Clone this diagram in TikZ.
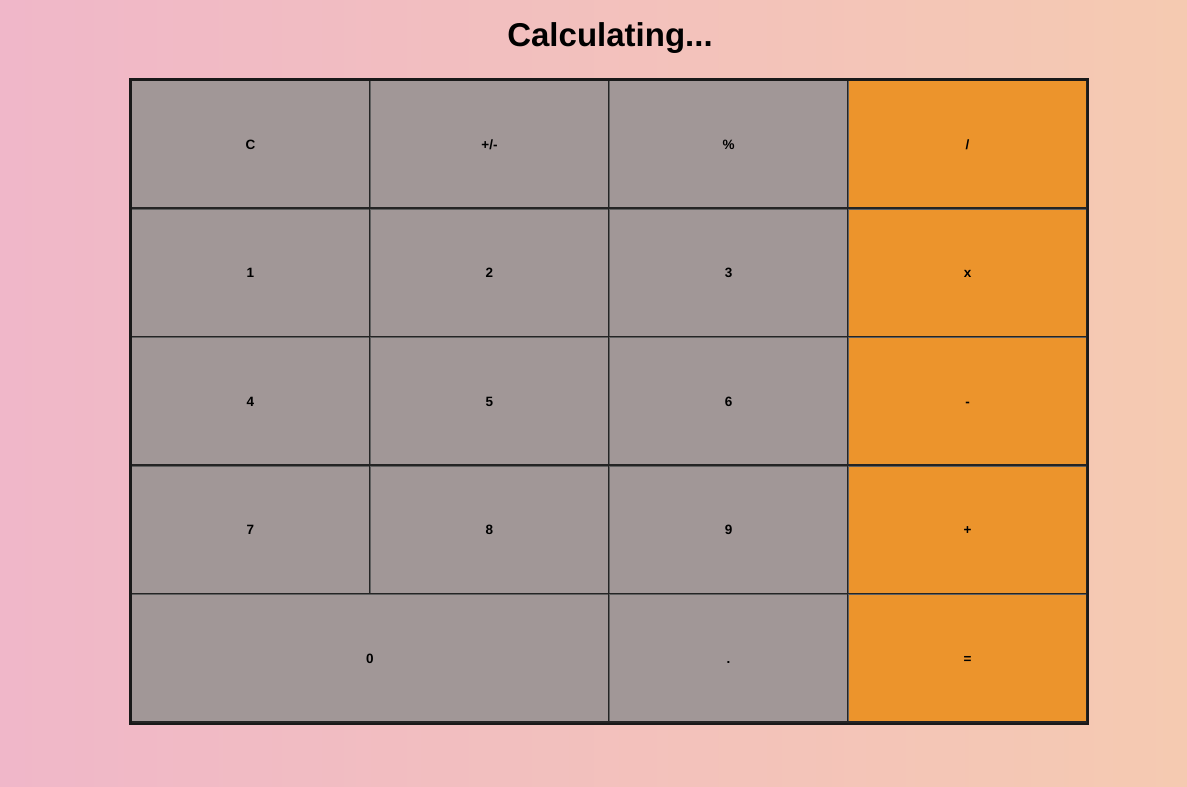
\documentclass[tikz,border=0pt]{standalone}
\usepackage{fontspec}
\setmainfont{Liberation Sans}
\definecolor{bgleft}{HTML}{F0B7C9}
\definecolor{bgright}{HTML}{F5CAB1}
\definecolor{keygray}{HTML}{A19797}
\definecolor{keyorange}{HTML}{EC942C}
\definecolor{keylight}{HTML}{606060}
\definecolor{keydark}{HTML}{242424}
\tikzset{
    key/.style={rectangle, fill=keygray, anchor=north west, inner sep=0pt, outer sep=0pt,
        minimum width=239pt, minimum height=128.5pt, text height=9.5pt, text depth=0pt,
        font=\fontsize{13.5}{15}\selectfont\bfseries},
    opkey/.style={key, fill=keyorange},
}
\begin{document}
\begin{tikzpicture}[x=1pt, y=-1pt]
    \shade [left color=bgleft, right color=bgright] (0, 0) rectangle (1187, 787);
    \node (title) at (610, 38) {\fontsize{33}{38}\selectfont\bfseries Calculating...};
    % number keys
    \foreach \lbl [count=\i from 0] in {C, +/-, \%, 1, 2, 3, 4, 5, 6, 7, 8, 9} {
        \pgfmathtruncatemacro\r{int(\i/3)}
        \pgfmathtruncatemacro\c{mod(\i,3)}
        \node [key] (key\i) at (131+239*\c, 80+128.5*\r) {\lbl};
        }
    \node [key, minimum width=478pt] (key12) at (131, 594) {0};
    \node [key] (key13) at (609, 594) {.};
    % operator keys
    \foreach \lbl [count=\r from 0] in {/, x, -, +, =} {
        \node [opkey] (op\r) at (848, 80+128.5*\r) {\lbl};
        }
    % key edges
    \foreach \k in {key0, key1, key2, key3, key4, key5, key6, key7, key8, key9, key10, key11, key12, key13, op0, op1, op2, op3, op4} {
        \draw [keylight, line width=1.4pt] ([shift={(0.7,0)}]\k.south west) |- ([shift={(0,0.7)}]\k.north east);
        \draw [keydark, line width=1.4pt] ([shift={(0,-0.7)}]\k.south west) -| ([shift={(-0.7,0)}]\k.north east);
        }
    \draw [black!90, line width=2.5pt] ([shift={(-0.5,-0.5)}]key0.north west) rectangle ([shift={(1,1.5)}]op4.south east);
\end{tikzpicture}
\end{document}
